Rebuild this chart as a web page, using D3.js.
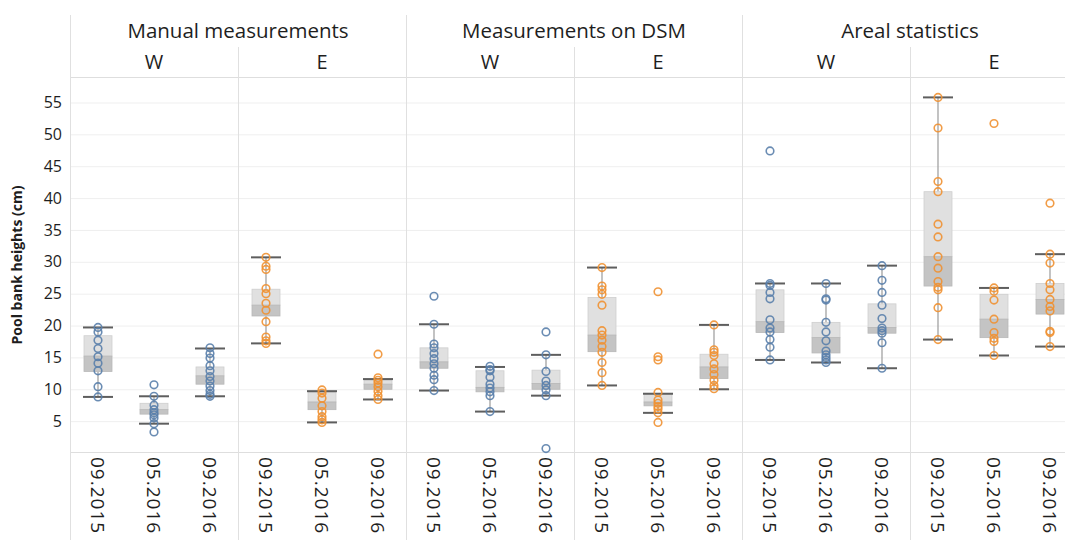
<!DOCTYPE html>
<html>
<head>
<meta charset="utf-8">
<script src="https://cdn.jsdelivr.net/npm/d3@7"></script>
<style>
  body { margin: 0; background: #fff; }
  text { font-family: "Open Sans", sans-serif; fill: #1e1e1e; }
</style>
</head>
<body>
<div id="chart"></div>
<script>
var w = 1065;
var h = 540;

// categories
var methods = ["Manual measurements", "Measurements on DSM", "Areal statistics"];
var sides = ["W", "E"];
var dates = ["09.2015", "05.2016", "09.2016"];
var yTicks = [5, 10, 15, 20, 25, 30, 35, 40, 45, 50, 55];

// single measurements, one array per date (09.2015, 05.2016, 09.2016)
var manualW = [
  [19.7, 19.0, 17.7, 16.4, 15.1, 14.1, 12.9, 10.4, 8.8],
  [10.7, 8.9, 7.5, 6.8, 6.3, 6.0, 5.5, 4.6, 3.3],
  [16.5, 15.6, 14.9, 13.7, 12.9, 12.0, 11.3, 10.5, 9.8, 9.2, 8.9]
];
var manualE = [
  [30.7, 29.3, 28.8, 25.8, 25.0, 23.5, 22.4, 20.6, 18.2, 17.6, 17.2],
  [9.9, 9.4, 8.6, 7.4, 6.5, 5.7, 5.2, 4.8],
  [15.5, 11.8, 11.4, 11.0, 10.4, 9.7, 9.0, 8.4]
];
var dsmW = [
  [24.6, 20.2, 17.1, 16.5, 15.6, 14.8, 14.0, 13.3, 12.2, 11.5, 9.8],
  [13.6, 13.1, 12.9, 11.9, 10.8, 10.2, 9.6, 9.0, 6.5],
  [19.0, 15.4, 12.8, 11.3, 10.6, 9.9, 9.0, 0.7]
];
var dsmE = [
  [29.1, 26.2, 25.6, 24.9, 23.2, 19.2, 18.5, 17.7, 16.7, 15.8, 14.2, 12.6, 10.6],
  [25.3, 15.1, 14.6, 9.5, 8.3, 7.8, 7.3, 6.9, 6.3, 4.8],
  [20.1, 16.2, 15.8, 15.3, 14.0, 13.2, 12.3, 11.4, 10.6, 10.1]
];
var arealW = [
  [47.4, 26.6, 26.3, 25.2, 24.2, 20.9, 19.6, 19.0, 17.8, 16.6, 14.6],
  [26.6, 24.2, 24.0, 20.5, 19.0, 17.6, 16.0, 15.4, 15.0, 14.6, 14.2],
  [29.4, 27.1, 25.2, 23.2, 21.1, 19.6, 19.2, 18.8, 17.3, 13.3]
];
var arealE = [
  [55.8, 51.0, 42.6, 41.0, 35.9, 33.9, 30.8, 29.0, 26.9, 26.0, 25.6, 22.8, 17.8],
  [51.7, 25.9, 25.4, 24.0, 21.0, 18.9, 18.0, 17.5, 15.3],
  [39.2, 31.2, 29.8, 26.6, 25.6, 24.1, 23.0, 22.3, 19.1, 18.9, 16.7]
];

// box plot statistics in panel order (Manual W, Manual E, DSM W, DSM E, Areal W, Areal E)
var whiskerLow  = [8.8, 4.6, 8.9,   17.2, 4.8, 8.4,   9.8, 6.5, 9.0,    10.6, 6.3, 10.0,   14.6, 14.2, 13.3,  17.8, 15.3, 16.7];
var q1          = [12.8, 6.1, 10.8, 21.5, 6.8, 10.0,  13.3, 9.6, 10.0,  15.9, 7.4, 11.7,   18.9, 15.7, 18.8,  26.2, 18.1, 21.8];
var median      = [15.2, 6.8, 12.1, 23.2, 8.0, 10.8,  14.3, 10.3, 10.9, 18.5, 8.0, 13.5,   20.6, 18.1, 19.7,  30.8, 21.0, 24.1];
var q3          = [18.4, 7.8, 13.5, 25.7, 9.5, 11.4,  16.5, 12.9, 13.0, 24.4, 9.2, 15.5,   25.6, 20.5, 23.4,  41.0, 24.9, 26.6];
var whiskerHigh = [19.7, 8.9, 16.4, 30.7, 9.7, 11.6,  20.2, 13.5, 15.4, 29.1, 9.3, 20.1,   26.6, 26.6, 29.4,  55.8, 25.9, 31.2];

var pointSets = [manualW, manualE, dsmW, dsmE, arealW, arealE];
var sideColor = { W: "#5a7fab", E: "#ef9132" };

// layout
var margin = {top: 77, left: 70, bottom: 453},
    headerTop = 15,
    subHeaderTop = 47;

var panels = [];
methods.forEach(function (m, mi) {
  sides.forEach(function (s, si) {
    panels.push({method: m, side: s, key: m + "|" + s, idx: mi * 2 + si});
  });
});

var xPanel = d3.scaleBand()
  .domain(panels.map(function (p) { return p.key; }))
  .range([margin.left, margin.left + 168 * 6]);

var xDate = d3.scalePoint()
  .domain(dates)
  .range([0, xPanel.bandwidth()])
  .padding(0.5);

var y = d3.scaleLinear()
  .domain([0, 59])
  .range([margin.bottom, margin.top]);

var svg = d3.select("#chart")
  .append("svg")
  .attr("width", w)
  .attr("height", h);

// horizontal gridlines
svg.append("g").selectAll("line")
  .data(yTicks)
  .join("line")
  .attr("x1", margin.left).attr("x2", w)
  .attr("y1", function (d) { return y(d) + 0.5; })
  .attr("y2", function (d) { return y(d) + 0.5; })
  .attr("stroke", "#efefef");

// frame lines
svg.append("line")
  .attr("x1", margin.left).attr("x2", w)
  .attr("y1", margin.top + 0.5).attr("y2", margin.top + 0.5)
  .attr("stroke", "#dedede");
svg.append("line")
  .attr("x1", margin.left).attr("x2", w)
  .attr("y1", margin.bottom - 0.5).attr("y2", margin.bottom - 0.5)
  .attr("stroke", "#dedede");

// panel dividers: method borders go to the top, side borders start below method header
svg.append("g").selectAll("line")
  .data(panels)
  .join("line")
  .attr("x1", function (d) { return Math.round(xPanel(d.key)) + 0.5; })
  .attr("x2", function (d) { return Math.round(xPanel(d.key)) + 0.5; })
  .attr("y1", function (d) { return d.idx % 2 === 0 ? headerTop : subHeaderTop; })
  .attr("y2", h)
  .attr("stroke", "#e0e0e0");

// headers
svg.append("g").selectAll("text")
  .data(methods)
  .join("text")
  .attr("x", function (d, i) { return xPanel(panels[i * 2].key) + xPanel.bandwidth(); })
  .attr("y", 38)
  .attr("text-anchor", "middle")
  .style("font-size", "20.5px")
  .text(function (d) { return d; });

svg.append("g").selectAll("text")
  .data(panels)
  .join("text")
  .attr("x", function (d) { return xPanel(d.key) + xPanel.bandwidth() / 2; })
  .attr("y", 69)
  .attr("text-anchor", "middle")
  .style("font-size", "20px")
  .text(function (d) { return d.side; });

// y axis
var yAxis = d3.axisLeft(y).tickValues(yTicks).tickSize(0).tickPadding(0);
var yG = svg.append("g")
  .attr("transform", "translate(62,0)")
  .call(yAxis);
yG.select(".domain").remove();
yG.selectAll("text")
  .style("font-family", "Open Sans, sans-serif")
  .style("font-size", "16px")
  .attr("fill", "#2a2a2a");

svg.append("text")
  .attr("transform", "translate(22," + 265 + ") rotate(-90)")
  .attr("text-anchor", "middle")
  .style("font-size", "14px")
  .style("font-weight", "bold")
  .text("Pool bank heights (cm)");

// x labels (rotated)
panels.forEach(function (p) {
  svg.append("g").selectAll("text")
    .data(dates)
    .join("text")
    .attr("transform", function (d) {
      return "translate(" + (xPanel(p.key) + xDate(d)) + ",457) rotate(90)";
    })
    .attr("dy", "0.35em")
    .style("font-size", "19px")
    .style("letter-spacing", "1px")
    .attr("fill", "#1a1a1a")
    .text(function (d) { return d; });
});

// box plots
var boxW = 28, capW = 30;
panels.forEach(function (p) {
  var g = svg.append("g");
  dates.forEach(function (d, di) {
    var i = p.idx * 3 + di;
    var cx = xPanel(p.key) + xDate(d);

    g.append("line")
      .attr("x1", cx).attr("x2", cx)
      .attr("y1", y(whiskerHigh[i])).attr("y2", y(q3[i]))
      .attr("stroke", "#9a9a9a").attr("stroke-width", 1.2);
    g.append("line")
      .attr("x1", cx).attr("x2", cx)
      .attr("y1", y(q1[i])).attr("y2", y(whiskerLow[i]))
      .attr("stroke", "#9a9a9a").attr("stroke-width", 1.2);

    g.append("rect")
      .attr("x", cx - boxW / 2).attr("width", boxW)
      .attr("y", y(q3[i])).attr("height", y(median[i]) - y(q3[i]))
      .attr("fill", "#e0e0e0")
      .attr("stroke", "#cfcfcf").attr("stroke-width", 0.8);
    g.append("rect")
      .attr("x", cx - boxW / 2).attr("width", boxW)
      .attr("y", y(median[i])).attr("height", y(q1[i]) - y(median[i]))
      .attr("fill", "#c4c4c4")
      .attr("stroke", "#b8b8b8").attr("stroke-width", 0.8);

    [whiskerLow[i], whiskerHigh[i]].forEach(function (v) {
      g.append("line")
        .attr("x1", cx - capW / 2).attr("x2", cx + capW / 2)
        .attr("y1", y(v)).attr("y2", y(v))
        .attr("stroke", "#5e5e5e").attr("stroke-width", 2);
    });

    g.selectAll("circle.p" + di)
      .data(pointSets[p.idx][di])
      .join("circle")
      .attr("class", "p" + di)
      .attr("cx", cx)
      .attr("cy", function (v) { return y(v); })
      .attr("r", 3.8)
      .attr("fill", "none")
      .attr("stroke", sideColor[p.side])
      .attr("stroke-width", 1.6)
      .attr("stroke-opacity", 0.9);
  });
});
</script>
</body>
</html>
